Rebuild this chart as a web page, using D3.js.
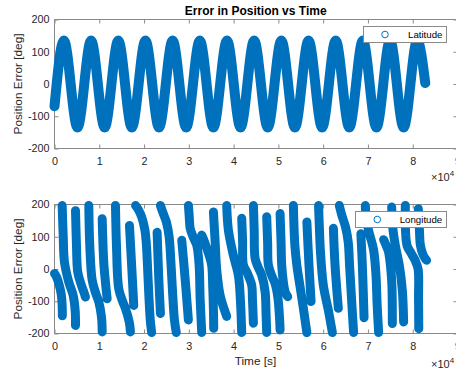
<!DOCTYPE html>
<html><head><meta charset="utf-8">
<script src="https://cdn.jsdelivr.net/npm/d3@7"></script>
<style>
html,body{margin:0;padding:0;background:#fff;}
svg{display:block;font-family:"Liberation Sans",Arial,Helvetica,sans-serif;}
</style>
</head><body>
<svg id="chart" width="456" height="372"></svg>
<script>
// ---------- data (time in seconds, error in degrees) ----------
const titleText = "Error in Position vs Time";
const yLabelText = "Position Error [deg]";
const xLabelText = "Time [s]";
const xTicks = [0,10000,20000,30000,40000,50000,60000,70000,80000,90000];
const xTickLabels = ["0","1","2","3","4","5","6","7","8","9"];
const yTicks = [-200,-100,0,100,200];
const yTickLabels = ["-200","-100","0","100","200"];

// Latitude error: turning points
const latTime  = [0,2100,5130,8170,11200,14240,17270,20310,23340,26380,29410,32450,35480,38520,41550,44590,47620,50660,53690,56730,59760,62800,65830,68870,71900,74940,77970,81010,82800];
const latError = [-69,135,-135,135,-135,135,-135,135,-135,135,-135,135,-135,135,-135,135,-135,135,-135,135,-135,135,-135,135,-135,135,-135,135,3];

// Longitude error: visible strokes, separated by null
const lonTime = [
 0,500,1000,1500,1700,1750,null,
 1710,1940,2230,3200,4170,4620,4690,null,
 4690,4910,5200,6000,6540,6920,null,
 7660,7880,8420,9200,9890,10500,10650,null,
 10650,11000,11380,11760,null,
 13620,13840,14350,15200,15850,16700,16960,null,
 16740,17190,17700,null,
 18100,18700,19500,20200,20500,20800,21100,21400,21700,null,
 22920,23290,23660,null,
 23660,24200,25000,25600,26000,26400,26800,27200,null,
 28420,29200,29900,null,
 29910,30100,30300,31000,31760,32300,32520,32750,32880,null,
 32880,33400,34000,34600,35100,35350,35500,35560,null,
 35490,35870,36230,36980,37950,38460,null,
 38460,38840,39960,41070,41520,41810,null,
 41810,42000,42190,42900,44040,44200,44420,null,
 44420,44600,44800,45500,46270,47030,47250,47390,null,
 47390,47600,47770,48500,49260,49900,50250,50380,null,
 50380,50600,50740,51100,51490,52080,null,
 53350,53680,54130,54800,55580,56360,null,
 56360,56800,57300,null,
 58970,59150,59380,60040,61160,62050,null,
 62280,62650,63390,null,
 63600,64200,65000,65600,65900,66200,66500,66800,null,
 68420,68750,69130,null,
 69420,69600,70130,71250,71800,72050,72390,null,
 73500,74100,74600,75100,75350,75450,null,
 75300,75560,76120,77010,77680,77970,null,
 78350,78730,79600,80500,81200,81300,81350,null,
 81250,81500,81700,82200,82750,83100
];
const lonError = [
 -14,-26,-47,-78,-110,-145,null,
 197,104,21,-41,-82,-130,-175,null,
 181,73,-10,-50,-71,-87,null,
 197,73,-35,-75,-102,-150,-195,null,
 156,21,-41,-92,null,
 197,73,-61,-100,-123,-165,-195,null,
 135,21,-113,null,
 197,185,160,120,80,0,-90,-160,-197,null,
 114,-30,-138,null,
 197,175,145,100,20,-80,-160,-197,null,
 89,-35,-158,null,
 197,160,126,98,74,12,-91,-160,-197,null,
 105,88,64,40,12,-60,-130,-184,null,
 177,86,-3,-81,-127,-147,null,
 197,120,42,-20,-97,-197,null,
 157,90,12,-8,-50,-91,-168,null,
 197,120,33,5,-19,-70,-140,-197,null,
 162,80,12,-20,-45,-90,-150,-189,null,
 172,80,12,-40,-70,-86,null,
 197,73,11,-51,-122,-197,null,
 146,20,-101,null,
 197,130,57,-51,-128,-197,null,
 126,12,-122,null,
 197,165,130,83,10,-60,-130,-197,null,
 109,12,-151,null,
 197,160,120,60,-20,-110,-197,null,
 91,72,53,0,-50,-169,null,
 192,126,73,11,-66,-164,null,
 197,73,50,28,0,-90,-185,null,
 187,120,75,48,33,27
];
const seriesNames = ["Latitude","Longitude"];

// ---------- drawing ----------
const blue = "#0072BD";
const axisCol = "#8a8a8a";
const textCol = "#262626";
const svg = d3.select("#chart");

const x = d3.scaleLinear().domain([0,90000]).range([54.5,457.5]);
const yTop = d3.scaleLinear().domain([-200,200]).range([148.5,19.5]);
const yBot = d3.scaleLinear().domain([-200,200]).range([333.5,204.5]);

function axes(yScale){
  const g = svg.append("g");
  const r = yScale.range();
  const bottomY = r[0], topY = r[1];
  const fmtX = (d,i)=>xTickLabels[i];
  const fmtY = (d,i)=>yTickLabels[i];
  const ax = [
    g.append("g").attr("transform",`translate(0,${bottomY})`)
      .call(d3.axisBottom(x).tickValues(xTicks).tickFormat(fmtX).tickSize(-4).tickPadding(9)),
    g.append("g").attr("transform",`translate(0,${topY})`)
      .call(d3.axisTop(x).tickValues(xTicks).tickFormat("").tickSize(-4)),
    g.append("g").attr("transform",`translate(${x.range()[0]},0)`)
      .call(d3.axisLeft(yScale).tickValues(yTicks).tickFormat(fmtY).tickSize(-4).tickPadding(5)),
    g.append("g").attr("transform",`translate(${x.range()[1]},0)`)
      .call(d3.axisRight(yScale).tickValues(yTicks).tickFormat("").tickSize(-4))
  ];
  ax.forEach(a=>{
    a.select(".domain").remove();
    a.selectAll("line").attr("stroke",axisCol);
    a.selectAll("text").attr("fill",textCol).attr("font-size","10.8px")
      .attr("font-family",'"Liberation Sans",Arial,sans-serif');
  });
  g.append("rect").attr("x",x.range()[0]).attr("y",topY)
    .attr("width",x.range()[1]-x.range()[0]).attr("height",bottomY-topY)
    .attr("fill","none").attr("stroke",axisCol).attr("stroke-width",1);
  return g;
}

// plot areas
const gTopAxes = axes(yTop);
const gBotAxes = axes(yBot);

// latitude band
const latData = latTime.map((t,i)=>({t, v: latError[i]}));
svg.append("path")
  .attr("d", d3.line().x(d=>x(d.t)).y(d=>yTop(d.v)).curve(d3.curveMonotoneX)(latData))
  .attr("fill","none").attr("stroke",blue).attr("stroke-width",10)
  .attr("stroke-linecap","round").attr("stroke-linejoin","round");

// longitude strokes
const lonData = lonTime.map((t,i)=>({t, v: lonError[i]}));
svg.append("path")
  .attr("d", d3.line().defined(d=>d.t!==null && d.v!==null)
      .x(d=>x(d.t)).y(d=>yBot(d.v)).curve(d3.curveCatmullRom.alpha(0.5))(lonData))
  .attr("fill","none").attr("stroke",blue).attr("stroke-width",9)
  .attr("stroke-linecap","round").attr("stroke-linejoin","round");

// title & labels
svg.append("text").attr("x",255.7).attr("y",15).attr("text-anchor","middle")
  .attr("font-size","12px").attr("font-weight","bold").attr("fill","#000").text(titleText);
[[84],[269]].forEach(([cy])=>{
  svg.append("text").attr("transform",`translate(22,${cy}) rotate(-90)`)
    .attr("text-anchor","middle").attr("font-size","11.8px").attr("fill",textCol).text(yLabelText);
});
svg.append("text").attr("x",255.5).attr("y",365).attr("text-anchor","middle")
  .attr("font-size","11.8px").attr("fill",textCol).text(xLabelText);

// x10^4 exponent labels
[180.5, 367.5].forEach(by=>{
  const t = svg.append("text").attr("x",431).attr("y",by).attr("font-size","11px").attr("fill",textCol);
  t.append("tspan").text("\u00d710");
  t.append("tspan").attr("font-size","8px").attr("dy",-5).text("4");
});

// legends
function legend(x0,y0,w,h,cx,tx,name){
  const g = svg.append("g");
  g.append("rect").attr("x",x0).attr("y",y0).attr("width",w).attr("height",h)
    .attr("fill","#fff").attr("stroke","#8a8a8a").attr("stroke-width",1);
  g.append("circle").attr("cx",cx).attr("cy",y0+h/2).attr("r",3.3)
    .attr("fill","none").attr("stroke",blue).attr("stroke-width",1);
  g.append("text").attr("x",tx).attr("y",y0+h/2+3.5).attr("font-size","9.7px")
    .attr("fill","#000").text(name);
}
legend(363.5,26.5,83,16,385,408,seriesNames[0]);
legend(355.5,211.5,91,16,377.3,399.7,seriesNames[1]);
</script>
</body></html>
